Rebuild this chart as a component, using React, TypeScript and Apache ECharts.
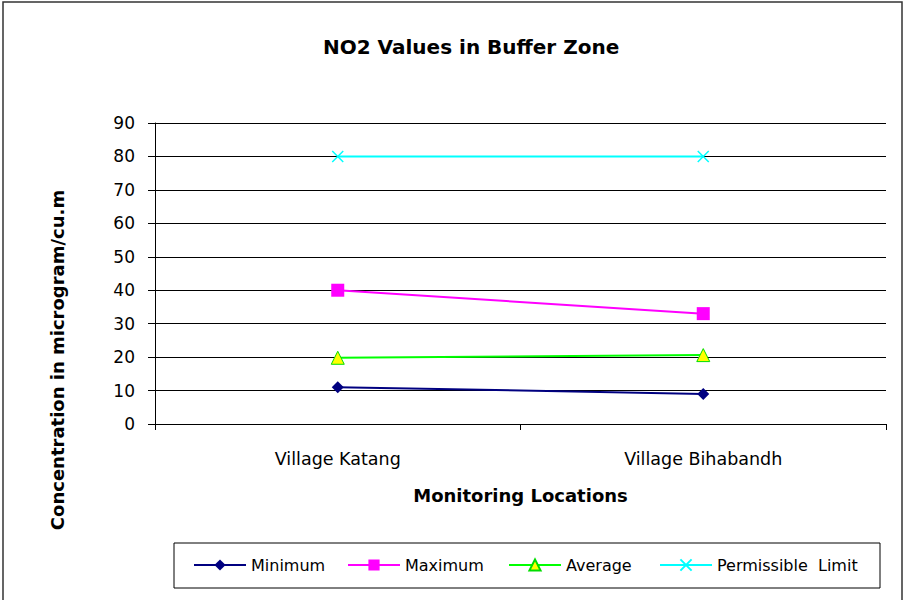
import React, { useEffect, useRef } from "react";
import * as echarts from "echarts";

const categories = ["Village Katang", "Village Bihabandh"];
const minimumValues = [11, 9];
const maximumValues = [40, 33];
const averageValues = [19.8, 20.6];
const limitValues = [80, 80];
const seriesNames = ["Minimum", "Maximum", "Average", "Permissible  Limit"];

const FONT = "DejaVu Sans";
const CROSS = "path://M0,0L10,10M10,0L0,10";

export default function App() {
  const ref = useRef<HTMLDivElement>(null);
  useEffect(() => {
    if (!ref.current) return;
    const chart = echarts.init(ref.current, null, { renderer: "svg" });
    const legendBase = {
      top: 557,
      itemWidth: 52,
      itemHeight: 14,
      padding: 0,
      textStyle: { fontFamily: FONT, fontSize: 16, color: "#000", padding: [0, 0, 0, 0] },
    };
    chart.setOption({
      animation: false,
      backgroundColor: "#fff",
      title: {
        text: "NO2 Values in Buffer Zone",
        left: 318,
        top: 32,
        textStyle: { fontFamily: FONT, fontSize: 20, fontWeight: "bold", color: "#000" },
      },
      grid: { left: 155, right: 19, top: 123, bottom: 176 },
      legend: [
        { ...legendBase, left: 193, data: [seriesNames[0]] },
        { ...legendBase, left: 347, data: [seriesNames[1]] },
        { ...legendBase, left: 508, data: [seriesNames[2]] },
        { ...legendBase, left: 659, data: [seriesNames[3]] },
      ],
      xAxis: {
        type: "category",
        data: categories,
        boundaryGap: true,
        name: "Monitoring Locations",
        nameLocation: "middle",
        nameGap: 62,
        nameTextStyle: { fontFamily: FONT, fontSize: 18, fontWeight: "bold", color: "#000" },
        axisLine: { lineStyle: { color: "#000", width: 1 } },
        axisTick: { show: true, length: 6, lineStyle: { color: "#000" } },
        axisLabel: { fontFamily: FONT, fontSize: 17.5, color: "#000", margin: 26 },
      },
      yAxis: {
        type: "value",
        min: 0,
        max: 90,
        interval: 10,
        axisLine: { show: true, lineStyle: { color: "#000", width: 1 } },
        axisTick: { show: true, length: 7, lineStyle: { color: "#000" } },
        axisLabel: { fontFamily: FONT, fontSize: 17, color: "#000", margin: 20 },
        splitLine: { lineStyle: { color: "#000", width: 1 } },
      },
      graphic: [
        {
          type: "rect",
          shape: { x: 3, y: 2, width: 899, height: 640 },
          style: { fill: "none", stroke: "#333", lineWidth: 1.5 },
          silent: true,
        },
        {
          type: "rect",
          shape: { x: 174, y: 543, width: 706, height: 45 },
          style: { fill: "none", stroke: "#000", lineWidth: 1 },
          silent: true,
        },
        {
          type: "text",
          x: 57,
          y: 360,
          rotation: Math.PI / 2,
          style: {
            text: "Concentration in microgram/cu.m",
            fontFamily: FONT,
            fontSize: 18,
            fontWeight: "bold",
            fill: "#000",
            textAlign: "center",
            textVerticalAlign: "middle",
          },
        },
      ],
      series: [
        {
          name: seriesNames[0],
          type: "line",
          data: minimumValues,
          symbol: "diamond",
          symbolSize: 12,
          lineStyle: { color: "#000080", width: 2 },
          itemStyle: { color: "#000080" },
        },
        {
          name: seriesNames[1],
          type: "line",
          data: maximumValues,
          symbol: "rect",
          symbolSize: 13,
          lineStyle: { color: "#FF00FF", width: 2 },
          itemStyle: { color: "#FF00FF" },
        },
        {
          name: seriesNames[2],
          type: "line",
          data: averageValues,
          symbol: "triangle",
          symbolSize: 13,
          lineStyle: { color: "#00FF00", width: 2 },
          itemStyle: { color: "#FFFF00", borderColor: "#00DD00", borderWidth: 1 },
        },
        {
          name: seriesNames[3],
          type: "line",
          data: limitValues,
          symbol: CROSS,
          symbolSize: 11,
          lineStyle: { color: "#00FFFF", width: 2 },
          itemStyle: { color: "#00FFFF", borderColor: "#00FFFF", borderWidth: 1.5 },
        },
      ],
    });
    return () => chart.dispose();
  }, []);
  return (
    <div
      ref={ref}
      style={{ position: "fixed", left: 0, top: 0, width: 905, height: 600 }}
    />
  );
}
